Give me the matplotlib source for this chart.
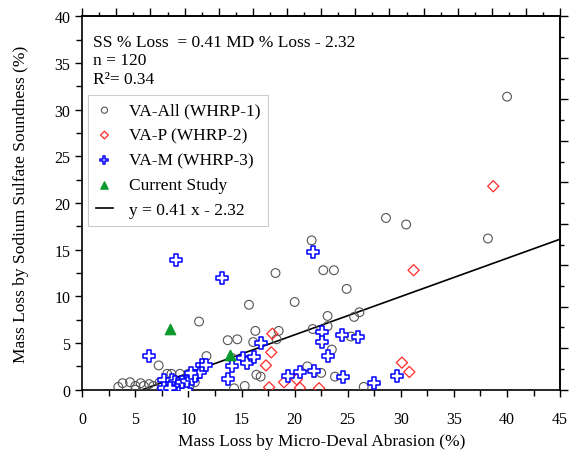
import numpy as np
import matplotlib
matplotlib.use('Agg')
import matplotlib.pyplot as plt

plt.rcParams['font.family'] = ['Liberation Serif', 'DejaVu Serif']

# VA-All (WHRP-1)
all_x = [3.4, 3.8, 4.5, 5.0, 5.0, 5.5, 5.8, 6.3, 6.7, 7.2, 7.3, 8.0, 8.1, 8.1, 8.4,
         9.2, 10.0, 10.1, 10.6, 11.0, 11.7, 13.7, 14.1, 14.3, 14.6, 15.3, 15.7, 16.1,
         16.3, 16.4, 16.8, 18.2, 18.3, 18.5, 20.0, 21.2, 21.6, 21.7, 22.5, 22.7, 23.1,
         23.1, 23.5, 23.7, 23.8, 24.9, 25.3, 25.6, 26.1, 26.5, 28.6, 30.5, 38.2, 40.0]
all_y = [0.3, 0.7, 0.8, 0.4, 0.0, 0.7, 0.4, 0.6, 0.4, 2.6, 0.8, 1.7, 0.8, 0.1, 1.7,
         1.7, 1.7, 0.4, 0.8, 7.3, 3.6, 5.3, 3.4, 0.15, 5.4, 0.4, 9.1, 5.1,
         6.3, 1.6, 1.4, 12.5, 5.4, 6.3, 9.4, 2.5, 16.0, 6.5, 1.8, 12.8, 7.9,
         6.8, 4.3, 12.8, 1.4, 10.8, 5.7, 7.8, 8.3, 0.3, 18.4, 17.7, 16.2, 31.4]

# VA-P (WHRP-2)
p_x = [17.3, 17.6, 17.8, 17.9, 19.0, 20.2, 20.5, 22.3, 30.1, 30.8, 31.2, 38.7]
p_y = [2.6, 0.25, 4.0, 6.0, 0.8, 1.1, 0.2, 0.15, 2.9, 1.9, 12.8, 21.8]

# VA-M (WHRP-3)
m_x = [6.3, 8.8, 13.2, 21.7, 7.7, 7.7, 8.5, 8.7, 9.0, 9.2, 8.9, 9.5, 9.8, 8.3, 9.4,
       9.9, 10.3, 10.6, 11.1, 11.3, 11.7, 10.2, 13.7, 14.1, 15.1, 15.5, 16.2, 16.8,
       19.4, 20.5, 21.8, 22.6, 22.6, 23.1, 24.5, 24.6, 26.0, 27.5, 29.6]
m_y = [3.6, 13.9, 12.0, 14.8, 1.0, 0.15, 1.0, 0.8, 0.6, 0.4, 0.15, 0.1, 0.0, 0.15, 0.8,
       0.9, 1.1, 1.5, 1.9, 2.6, 2.6, 1.8, 1.1, 2.5, 3.4, 2.9, 3.5, 5.0,
       1.5, 1.9, 2.0, 6.2, 5.1, 3.6, 5.9, 1.4, 5.6, 0.7, 1.5]

# Current Study
cs_x = [8.3, 13.9]
cs_y = [6.5, 3.7]

slope, intercept = 0.41, -2.32

fig = plt.figure(figsize=(5.71, 4.64), dpi=100)
ax = fig.add_axes([0.144, 0.158, 0.837, 0.8045])

ax.scatter(all_x, all_y, s=40, facecolors='none', edgecolors='#555555', linewidths=0.8,
           label='VA-All (WHRP-1)', zorder=3)
ax.scatter(p_x, p_y, s=32, marker='D', facecolors='none', edgecolors='#ff2a2a',
           linewidths=0.9, label='VA-P (WHRP-2)', zorder=3)
ax.scatter(m_x, m_y, s=65, marker='P', facecolors='white', edgecolors='#0000ff',
           linewidths=1.1, label='VA-M (WHRP-3)', zorder=4)
ax.scatter(cs_x, cs_y, s=55, marker='^', color='#0a9a2e', label='Current Study', zorder=5)

xl = np.array([-intercept / slope, 45])
ax.plot(xl, slope * xl + intercept, color='black', lw=1.2,
        label='y = 0.41 x - 2.32', zorder=2)

ax.set_xlim(0, 45)
ax.set_ylim(0, 40)
ax.set_xticks(np.arange(0, 46, 5))
ax.set_xticks(np.arange(0, 46, 2.5), minor=True)
ax.set_yticks(np.arange(0, 41, 5))
ax.set_yticks(np.arange(0, 41, 2.5), minor=True)
ax.tick_params(which='both', direction='out', labelsize=11.5, width=1.0)
ax.tick_params(which='major', length=5)
ax.tick_params(which='minor', length=4)
ax.tick_params(axis='x', pad=10)
for s in ax.spines.values():
    s.set_linewidth(1.2)

top = ax.secondary_xaxis('top')
top.set_xticks(np.linspace(0, 45, 15))
top.set_xticks(np.linspace(0, 45, 29), minor=True)
top.tick_params(which='both', direction='out', labeltop=False, width=1.0)
top.tick_params(which='major', length=6)
top.tick_params(which='minor', length=3)
top.spines['top'].set_linewidth(1.2)

right = ax.secondary_yaxis('right')
right.set_yticks(np.linspace(0, 40, 10))
right.set_yticks(np.linspace(0, 40, 19), minor=True)
right.tick_params(which='both', direction='out', labelright=False, width=1.0)
right.tick_params(which='major', length=6)
right.tick_params(which='minor', length=3)
right.spines['right'].set_linewidth(1.2)

ax.set_xlabel('Mass Loss by Micro-Deval Abrasion (%)', fontsize=12.5, labelpad=5)
ax.set_ylabel('Mass Loss by Sodium Sulfate Soundness (%)', fontsize=12.5, labelpad=18)

ax.text(0.022, 0.953, 'SS % Loss  = 0.41 MD % Loss - 2.32\nn = 120\nR\u00b2= 0.34',
        transform=ax.transAxes, ha='left', va='top', fontsize=12.5, linespacing=1.2)

leg = ax.legend(loc='upper left', bbox_to_anchor=(0.012, 0.79), fontsize=12.5,
                frameon=True, fancybox=False, edgecolor='#cccccc', framealpha=1,
                handlelength=1.0, handletextpad=0.9, labelspacing=0.5,
                borderpad=0.45, borderaxespad=0.0, markerscale=0.7)
leg.get_frame().set_linewidth(0.8)

fig.savefig('out.png', dpi=100)
